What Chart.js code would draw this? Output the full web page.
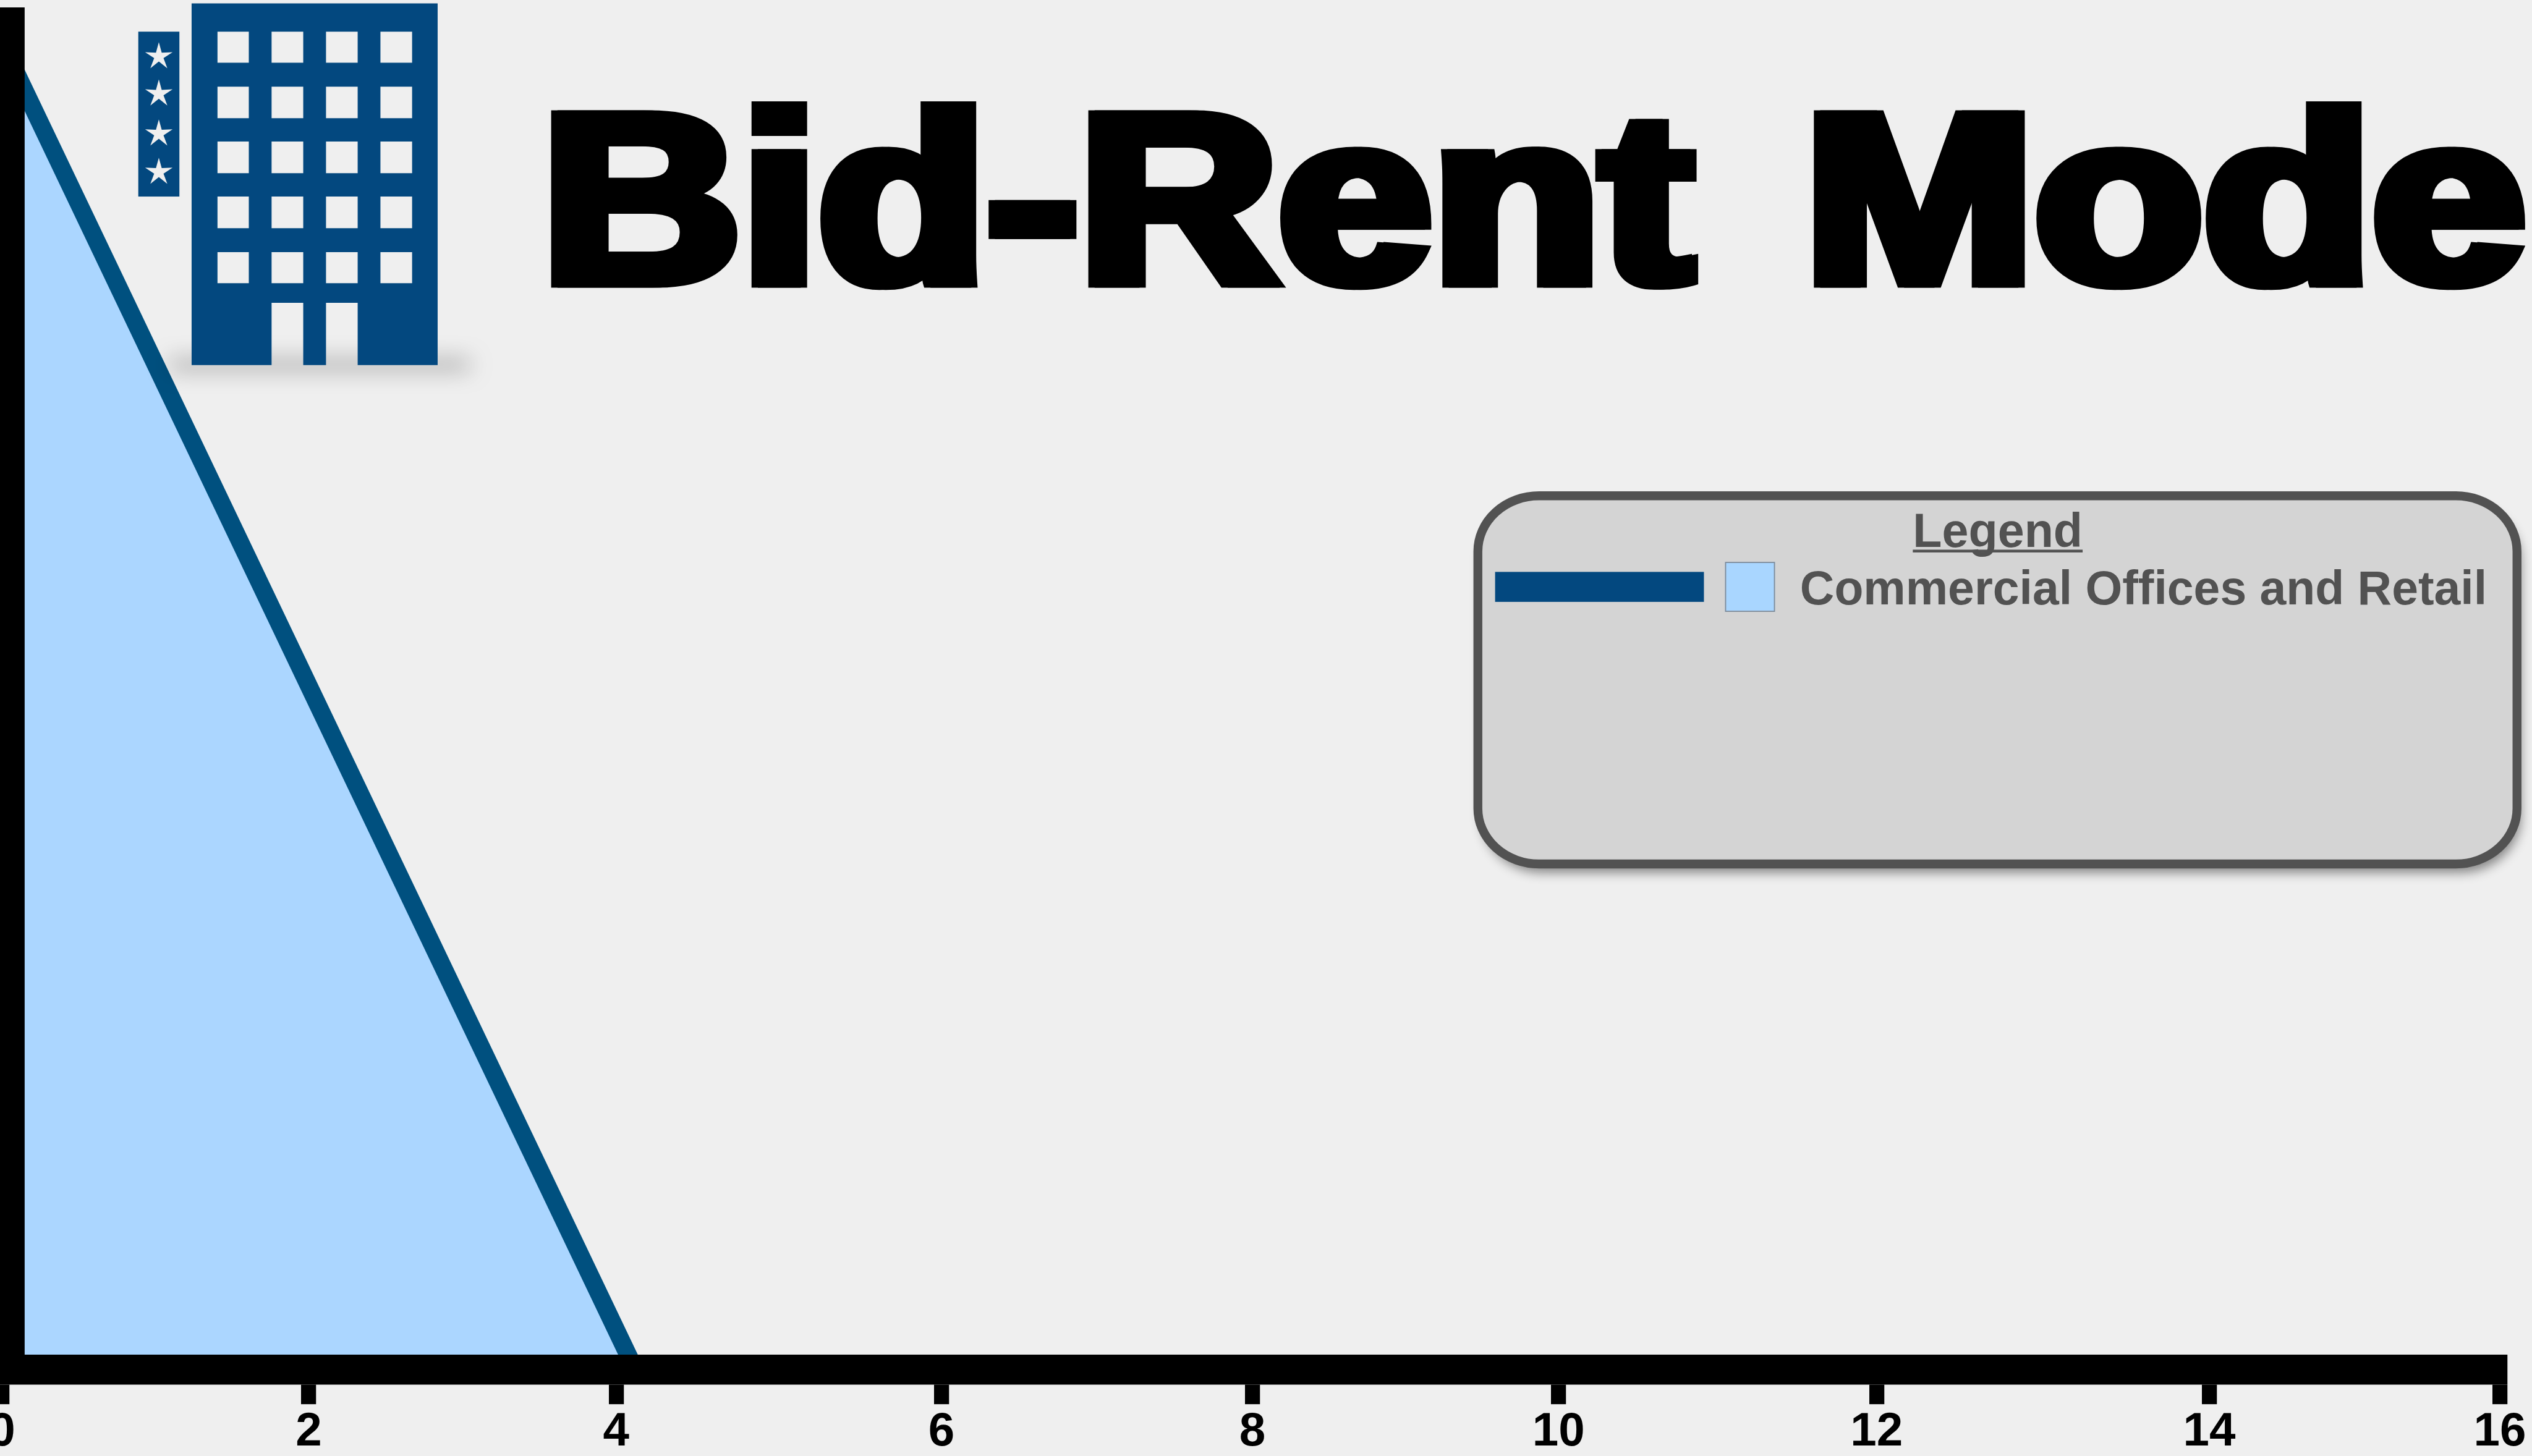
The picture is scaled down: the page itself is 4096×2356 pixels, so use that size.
<!DOCTYPE html>
<html>
<head>
<meta charset="utf-8">
<title>Bid-Rent Model</title>
<script src="https://cdn.jsdelivr.net/npm/chart.js@4"></script>
<style>
html,body{margin:0;padding:0;background:#EFEFEF;overflow:hidden}
canvas{display:block}
</style>
</head>
<body>
<canvas id="c" width="4096" height="2356"></canvas>
<script>
const chartTitle = "Bid-Rent Model";
const legendTitle = "Legend";
const seriesName = "Commercial Offices and Retail";
const distance = [0, 4.055];
const bidRent = [9.896, 0];
const xTickValues = [0, 1.964, 3.933, 6.017, 8.009, 9.970, 12.008, 14.139, 16];
const xTickLabels = ["0","2","4","6","8","10","12","14","16"];

const S = 4096 / 4559;
const BLUE = "#03487F";
const LINE = "#00507F";
const FILL = "#ABD6FF";
const BG = "#EFEFEF";
const FONT = '"Liberation Sans", Arial, sans-serif';

function star(ctx, cx, cy, r) {
  ctx.beginPath();
  for (let i = 0; i < 10; i++) {
    const a = -Math.PI / 2 + i * Math.PI / 5;
    const q = i % 2 ? r * 0.34 : r;
    ctx.lineTo(cx + q * Math.cos(a), cy + q * Math.sin(a));
  }
  ctx.closePath();
  ctx.fill();
}

const artPlugin = {
  id: "art",
  afterDraw(chart) {
    const ctx = chart.ctx;
    ctx.save();
    ctx.scale(S, S);

    // building shadow
    ctx.save();
    ctx.shadowColor = "rgba(0,0,0,0.6)";
    ctx.shadowBlur = 36;
    ctx.shadowOffsetX = 8000;
    ctx.shadowOffsetY = 0;
    ctx.fillStyle = "#000";
    ctx.fillRect(305 - 8000 / S, 652, 540, 10);
    ctx.restore();

    // building with openings
    const cols = [[391.6, 448], [489, 546], [587, 644], [685, 742]];
    const rows = [[57, 113], [156, 213], [255, 312], [354, 411], [454, 510]];
    ctx.fillStyle = BLUE;
    ctx.beginPath();
    ctx.rect(345, 6, 443, 651.5);
    for (const r of rows) for (const c of cols) ctx.rect(c[0], r[0], c[1] - c[0], r[1] - r[0]);
    ctx.rect(489, 545.5, 57, 112);
    ctx.rect(587, 545.5, 57, 112);
    ctx.fill("evenodd");

    // sign
    ctx.fillRect(249, 57, 74, 297);
    ctx.fillStyle = BG;
    for (const y of [102, 169, 241, 310]) star(ctx, 286, y, 26);

    // title
    ctx.save();
    ctx.translate(975, 509);
    ctx.scale(1.136, 1);
    ctx.font = 'bold 438px ' + FONT;
    ctx.wordSpacing = "55px";
    ctx.textBaseline = "alphabetic";
    ctx.textAlign = "left";
    ctx.lineJoin = "miter";
    ctx.miterLimit = 3;
    ctx.lineWidth = 18;
    ctx.strokeStyle = "#000";
    ctx.fillStyle = "#000";
    ctx.strokeText(chartTitle, -5, 0);
    ctx.strokeText(chartTitle, 5, 0);
    ctx.fillText(chartTitle, 0, 0);
    ctx.restore();

    // legend box
    const lx = 2661, ly = 893, lw = 1871, lh = 663;
    ctx.save();
    ctx.shadowColor = "rgba(0,0,0,0.45)";
    ctx.shadowBlur = 18;
    ctx.shadowOffsetX = 6;
    ctx.shadowOffsetY = 14;
    ctx.fillStyle = "#D4D4D4";
    ctx.beginPath();
    ctx.roundRect(lx, ly, lw, lh, [{x: 110, y: 100}]);
    ctx.fill();
    ctx.restore();
    ctx.strokeStyle = "#525252";
    ctx.lineWidth = 16;
    ctx.beginPath();
    ctx.roundRect(lx, ly, lw, lh, [{x: 110, y: 100}]);
    ctx.stroke();

    // legend text
    ctx.fillStyle = "#525252";
    ctx.font = 'bold 86px ' + FONT;
    ctx.textBaseline = "alphabetic";
    ctx.textAlign = "center";
    ctx.fillText(legendTitle, 3597, 985);
    const tw = ctx.measureText(legendTitle).width;
    ctx.fillRect(3597 - tw / 2, 990, tw, 5);
    ctx.textAlign = "left";
    ctx.font = 'bold 85.6px ' + FONT;
    ctx.fillText(seriesName, 3241, 1088);

    // legend swatches
    ctx.fillStyle = BLUE;
    ctx.fillRect(2692, 1030, 376, 54);
    ctx.fillStyle = "#A9D6FF";
    ctx.fillRect(3106, 1012, 90, 90);
    ctx.strokeStyle = "#7F8A96";
    ctx.lineWidth = 2;
    ctx.strokeRect(3107, 1013, 88, 88);
    ctx.restore();
  }
};

new Chart(document.getElementById("c"), {
  type: "line",
  plugins: [artPlugin],
  data: {
    labels: distance,
    datasets: [{
      label: seriesName,
      data: distance.map((d, i) => ({x: d, y: bidRent[i]})),
      borderColor: LINE,
      backgroundColor: FILL,
      borderWidth: 32 * S,
      fill: "origin",
      pointRadius: 0,
      tension: 0
    }]
  },
  options: {
    responsive: false,
    animation: false,
    devicePixelRatio: 1,
    layout: {padding: {left: 4 * S, right: 4096 - 4501 * S, top: 53 * S, bottom: 0}},
    plugins: {legend: {display: false}, title: {display: false}, tooltip: {enabled: false}},
    scales: {
      x: {
        type: "linear",
        min: 0,
        max: 16,
        afterBuildTicks(scale) { scale.ticks = xTickValues.map(v => ({value: v})); },
        afterFit(scale) { scale.paddingLeft = 0; scale.paddingRight = 0; scale.height = 2356 - 2467 * S; },
        border: {display: true, color: "#000", width: 54 * S, z: 1},
        grid: {
          display: true,
          z: 1,
          drawOnChartArea: false,
          drawTicks: true,
          tickLength: 62 * S,
          tickWidth: 27 * S,
          tickColor: "#000",
          color: "#000",
          lineWidth: 27 * S
        },
        ticks: {
          z: 1,
          autoSkip: false,
          maxRotation: 0,
          minRotation: 0,
          padding: 8,
          color: "#000",
          font: {family: FONT, weight: "bold", size: 85 * S, lineHeight: 1},
          callback: (v, i) => xTickLabels[i]
        }
      },
      y: {
        min: 0,
        max: 10,
        border: {display: true, color: "#000", width: 80 * S, z: 1},
        grid: {display: false, drawTicks: false},
        ticks: {display: false}
      }
    }
  }
});
</script>
</body>
</html>
